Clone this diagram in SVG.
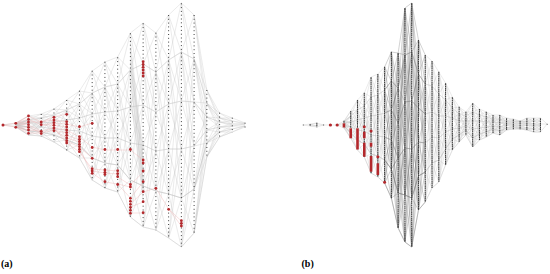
<svg xmlns="http://www.w3.org/2000/svg" width="550" height="274" viewBox="0 0 550 274">
<style>
.e{fill:none;stroke:#c6c6c6;stroke-width:0.35;vector-effect:non-scaling-stroke}
.eb{fill:none;stroke:#bababa;stroke-width:0.3;vector-effect:non-scaling-stroke}
.ec{fill:none;stroke:#7c7c7c;stroke-width:0.35;vector-effect:non-scaling-stroke}
.er{fill:none;stroke:#eeb0b0;stroke-width:0.4;vector-effect:non-scaling-stroke}
.d{stroke:#3c3c3c;stroke-width:1;stroke-dasharray:1 2.8}
.b{stroke:#3f3f3f;stroke-width:1.1;stroke-dasharray:1.7 0.4}
.r{fill:#b3282c}
.rb{stroke:#b3282c;stroke-width:2.6}
.lbl{font-family:"Liberation Serif","DejaVu Serif",serif;font-size:10px;font-weight:bold;fill:#000}
</style>
<rect width="550" height="274" fill="#fff"/>

<g id="connectors">
<g id="edges-a" transform="translate(3 0) scale(12.74 1)">
<path class="e" d="M0 125 1 123M0 125 1 125M0 125 1 127
M1 123 2 116 1 124 2 120 1 125 2 123 1 125 2 127 1 126 2 131 1 127 2 135
M1 123 2 120 1 124 2 123 1 125 2 127 1 125 2 131 1 126 2 135 1 127
M1 123 2 123 1 127 2 127 1 124 2 131 1 126 2 120
M2 116 3 114 2 120 3 118 2 123 3 123 2 127 3 127 2 131 3 132 2 135 3 136
M2 116 3 118 2 120 3 123 2 123 3 127 2 127 3 132 2 131 3 136 2 135
M2 116 3 123 2 135 3 127 2 120 3 132 2 131 3 118
M3 114 4 109 3 118 4 115 3 123 4 122 3 127 4 129 3 132 4 135 3 136 4 142
M3 114 4 115 3 118 4 122 3 123 4 129 3 127 4 135 3 132 4 142 3 136
M3 114 4 122 3 136 4 129 3 118 4 135 3 132 4 115
M4 109 5 100 4 115 5 110 4 122 5 120 4 129 5 130 4 135 5 140 4 142 5 150
M4 109 5 110 4 115 5 120 4 122 5 130 4 129 5 140 4 135 5 150 4 142
M4 109 5 120 4 142 5 130 4 115 5 140 4 135 5 110
M5 100 6 91 5 110 6 104 5 120 6 118 5 130 6 131 5 140 6 145 5 150 6 158
M5 100 6 104 5 110 6 118 5 120 6 131 5 130 6 145 5 140 6 158 5 150
M5 100 6 118 5 150 6 131 5 110 6 145 5 140 6 104
M6 91 7 71 6 104 7 93 6 118 7 114 6 131 7 136 6 145 7 158 6 158 7 180
M6 91 7 93 6 104 7 114 6 118 7 136 6 131 7 158 6 145 7 180 6 158
M6 91 7 114 6 158 7 136 6 104 7 158 6 145 7 93
M7 71 8 62 7 93 8 87 7 114 8 112 7 136 8 138 7 158 8 163 7 180 8 188
M7 71 8 87 7 93 8 112 7 114 8 138 7 136 8 163 7 158 8 188 7 180
M7 71 8 112 7 180 8 138 7 93 8 163 7 158 8 87
M8 62 9 57 8 87 9 84 8 112 9 111 8 138 9 138 8 163 9 165 8 188 9 192
M8 62 9 84 8 87 9 111 8 112 9 138 8 138 9 165 8 163 9 192 8 188
M8 62 9 111 8 188 9 138 8 87 9 165 8 163 9 84
M9 57 10 33 9 84 10 70 9 111 10 107 9 138 10 143 9 165 10 180 9 192 10 217
M9 57 10 70 9 84 10 107 9 111 10 143 9 138 10 180 9 165 10 217 9 192
M9 57 10 107 9 192 10 143 9 84 10 180 9 165 10 70
M10 33 11 23 10 70 11 64 10 107 11 105 10 143 11 145 10 180 11 186 10 217 11 227
M10 33 11 64 10 70 11 105 10 107 11 145 10 143 11 186 10 180 11 227 10 217
M10 33 11 105 10 217 11 145 10 70 11 186 10 180 11 64
M10 40 11 160 10 50 11 170 10 60 11 180 10 80 11 190 10 95 11 200
M11 23 12 33 11 64 12 72 11 105 12 112 11 145 12 151 11 186 12 191 11 227 12 230
M11 23 12 72 11 64 12 112 11 105 12 151 11 145 12 191 11 186 12 230 11 227
M11 23 12 112 11 227 12 151 11 64 12 191 11 186 12 72
M12 33 13 15 12 72 13 60 12 112 13 104 12 151 13 149 12 191 13 194 12 230 13 238
M12 33 13 60 12 72 13 104 12 112 13 149 12 151 13 194 12 191 13 238 12 230
M12 33 13 104 12 230 13 149 12 72 13 194 12 191 13 60
M13 15 14 3 13 60 14 52 13 104 14 101 13 149 14 149 13 194 14 198 13 238 14 247
M13 15 14 52 13 60 14 101 13 104 14 149 13 149 14 198 13 194 14 247 13 238
M13 15 14 101 13 238 14 149 13 60 14 198 13 194 14 52
M14 3 15 15 14 52 15 59 14 101 15 102 14 149 15 146 14 198 15 189 14 247 15 233
M14 3 15 59 14 52 15 102 14 101 15 146 14 149 15 189 14 198 15 233 14 247
M14 3 15 102 14 247 15 146 14 52 15 189 14 198 15 59
M15 15 16 90 15 59 16 103 15 102 16 117 15 146 16 130 15 189 16 143 15 233 16 157
M15 15 16 103 15 59 16 117 15 102 16 130 15 146 16 143 15 189 16 157 15 233
M15 15 16 117 15 233 16 130 15 59 16 143 15 189 16 103
M16 90 17 113 16 103 17 118 16 117 17 122 16 130 17 127 16 143 17 132 16 157 17 137
M16 90 17 118 16 103 17 122 16 117 17 127 16 130 17 132 16 143 17 137 16 157
M16 90 17 122 16 157 17 127 16 103 17 132 16 143 17 118
M17 113 18 118 17 118 18 121 17 122 18 124 17 127 18 126 17 132 18 129 17 137 18 132
M17 113 18 121 17 118 18 124 17 122 18 126 17 127 18 129 17 132 18 132 17 137
M18 118 19 123 18 121 19 124 18 124 19 124 18 126 19 126 18 129 19 126 18 132 19 127"/>
<path class="er" d="M0 125 1 123M0 125 1 127
M1 123 2 116M1 123 2 119M1 123 2 122M1 123 2 125M1 127 2 127M1 127 2 130M1 127 2 133M1 127 2 122
M2 116 3 122M2 119 3 125M2 122 3 122M2 125 3 131M2 127 3 133M2 130 3 131M2 133 3 133
M3 122 4 117M3 122 4 120M3 125 4 123M3 125 4 125M3 131 4 128M3 133 4 130
M4 117 5 114M4 120 5 122M4 123 5 124M4 125 5 127M4 128 5 130M4 130 5 133M4 130 5 138M4 128 5 143
M5 124 6 127M5 130 6 137M5 135 6 140M5 138 6 142M5 141 6 147M5 143 6 152
M6 127 7 123M6 137 7 147M6 147 7 158M6 152 7 169M6 149 7 173
M7 147 8 150M7 169 8 170M7 171 8 173M7 173 8 182
M8 150 9 150M8 170 9 171M8 173 9 174M8 182 9 184
M9 150 10 150M9 177 10 185M9 184 10 187M9 184 10 198
M10 150 11 160M10 185 11 172M10 198 11 182M10 207 11 202M10 213 11 213M10 204 11 192
M11 192 12 188M12 188 13 209M13 209 14 221M13 209 14 226"/>
</g>

<g id="edges-b" transform="translate(303.3 0) scale(6.775 1)">
<path class="eb" d="M0 125 1 124M0 125 1 126
M1 124 2 123 1 125 2 126 1 126 2 127M1 124 2 126
M2 123 3 125 2 127M2 125 3 125M3 125 4 125M4 125 5 125
M5 125 6 121M5 125 6 123M5 125 6 125M5 125 6 128
M6 121 7 111 6 122 7 116 6 123 7 122 6 125 7 127 6 126 7 133 6 128 7 138
M6 121 7 116 6 122 7 122 6 123 7 127 6 125 7 133 6 126 7 138 6 128
M6 121 7 122 6 128 7 127 6 122 7 133 6 126 7 116
M7 111 8 100 7 116 8 110 7 122 8 120 7 127 8 130 7 133 8 140 7 138 8 150
M7 111 8 110 7 116 8 120 7 122 8 130 7 127 8 140 7 133 8 150 7 138
M7 111 8 120 7 138 8 130 7 116 8 140 7 133 8 110
M8 100 9 93 8 110 9 106 8 120 9 118 8 130 9 131 8 140 9 144 8 150 9 157
M8 100 9 106 8 110 9 118 8 120 9 131 8 130 9 144 8 140 9 157 8 150
M8 100 9 118 8 150 9 131 8 110 9 144 8 140 9 106
M9 93 10 77 9 106 10 97 9 118 10 116 9 131 10 135 9 144 10 154 9 157 10 173
M9 93 10 97 9 106 10 116 9 118 10 135 9 131 10 154 9 144 10 173 9 157
M9 93 10 116 9 157 10 135 9 106 10 154 9 144 10 97
M10 77 11 74 10 97 11 95 10 116 11 115 10 135 11 136 10 154 11 156 10 173 11 177
M10 77 11 95 10 97 11 115 10 116 11 136 10 135 11 156 10 154 11 177 10 173
M10 77 11 115 10 173 11 136 10 97 11 156 10 154 11 95
M11 74 12 67 11 95 12 90 11 115 12 113 11 136 12 137 11 156 12 160 11 177 12 183
M11 74 12 90 11 95 12 113 11 115 12 137 11 136 12 160 11 156 12 183 11 177
M11 74 12 113 11 177 12 137 11 95 12 160 11 156 12 90
M18 55 19 61 18 84 19 86 18 114 19 112 18 143 19 137 18 172 19 163 18 202 19 188
M18 55 19 86 18 84 19 112 18 114 19 137 18 143 19 163 18 172 19 188 18 202
M18 55 19 112 18 202 19 137 18 84 19 163 18 172 19 86
M19 61 20 72 19 86 20 94 19 112 20 116 19 137 20 138 19 163 20 160 19 188 20 182
M19 61 20 94 19 86 20 116 19 112 20 138 19 137 20 160 19 163 20 182 19 188
M19 61 20 116 19 188 20 138 19 86 20 160 19 163 20 94
M20 72 21 83 20 94 21 100 20 116 21 116 20 138 21 132 20 160 21 149 20 182 21 165
M20 72 21 100 20 94 21 116 20 116 21 132 20 138 21 149 20 160 21 165 20 182
M20 72 21 116 20 182 21 132 20 94 21 149 20 160 21 100
M21 83 22 97 21 100 22 108 21 116 22 118 21 132 22 129 21 149 22 139 21 165 22 150
M21 83 22 108 21 100 22 118 21 116 22 129 21 132 22 139 21 149 22 150 21 165
M21 83 22 118 21 165 22 129 21 100 22 139 21 149 22 108
M22 97 23 107 22 108 23 114 22 118 23 121 22 129 23 128 22 139 23 135 22 150 23 142
M22 97 23 114 22 108 23 121 22 118 23 128 22 129 23 135 22 139 23 142 22 150
M22 97 23 121 22 150 23 128 22 108 23 135 22 139 23 114
M23 107 24 112 23 114 24 116 23 121 24 121 23 128 24 126 23 135 24 130 23 142 24 135
M23 107 24 116 23 114 24 121 23 121 24 126 23 128 24 130 23 135 24 135 23 142
M23 107 24 121 23 142 24 126 23 114 24 130 23 135 24 116
M24 112 25 103 24 116 25 112 24 121 25 121 24 126 25 129 24 130 25 138 24 135 25 147
M24 112 25 112 24 116 25 121 24 121 25 129 24 126 25 138 24 130 25 147 24 135
M24 112 25 121 24 135 25 129 24 116 25 138 24 130 25 112
M25 103 26 109 25 112 26 115 25 121 26 121 25 129 26 128 25 138 26 134 25 147 26 140
M25 103 26 115 25 112 26 121 25 121 26 128 25 129 26 134 25 138 26 140 25 147
M25 103 26 121 25 147 26 128 25 112 26 134 25 138 26 115
M26 109 27 112 26 115 27 117 26 121 27 122 26 128 27 127 26 134 27 132 26 140 27 137
M26 109 27 117 26 115 27 122 26 121 27 127 26 128 27 132 26 134 27 137 26 140
M26 109 27 122 26 140 27 127 26 115 27 132 26 134 27 117
M27 112 28 115 27 117 28 119 27 122 28 122 27 127 28 126 27 132 28 129 27 137 28 133
M27 112 28 119 27 117 28 122 27 122 28 126 27 127 28 129 27 132 28 133 27 137
M27 112 28 122 27 137 28 126 27 117 28 129 27 132 28 119
M28 115 29 115 28 119 29 119 28 122 29 123 28 126 29 127 28 129 29 131 28 133 29 135
M28 115 29 119 28 119 29 123 28 122 29 127 28 126 29 131 28 129 29 135 28 133
M28 115 29 123 28 133 29 127 28 119 29 131 28 129 29 119
M29 115 30 118 29 119 30 121 29 123 30 123 29 127 30 125 29 131 30 128 29 135 30 130
M29 115 30 121 29 119 30 123 29 123 30 125 29 127 30 128 29 131 30 130 29 135
M29 115 30 123 29 135 30 125 29 119 30 128 29 131 30 121
M30 118 31 119 30 121 31 121 30 123 31 123 30 125 31 125 30 128 31 127 30 130 31 129
M30 118 31 121 30 121 31 123 30 123 31 125 30 125 31 127 30 128 31 129 30 130
M31 119 32 121 31 121 32 122 31 123 32 124 31 125 32 126 31 127 32 128 31 129 32 129
M31 119 32 122 31 121 32 124 31 123 32 126 31 125 32 128 31 127 32 129 31 129
M32 121 33 118 32 122 33 121 32 124 33 123 32 126 33 125 32 128 33 128 32 129 33 130
M32 121 33 121 32 122 33 123 32 124 33 125 32 126 33 128 32 128 33 130 32 129
M33 118 34 118 33 121 34 121 33 123 34 124 33 125 34 126 33 128 34 129 33 130 34 132
M33 118 34 121 33 121 34 124 33 123 34 126 33 125 34 129 33 128 34 132 33 130
M34 118 35 118 34 121 35 121 34 124 35 124 34 126 35 126 34 129 35 129 34 132 35 132
M34 118 35 121 34 121 35 124 34 124 35 126 34 126 35 129 34 129 35 132 34 132
M35 118 36 124M35 124 36 124M35 132 36 124"/>
<path class="ec" d="M12 67 13 52 12 90 13 81 12 113 13 110 12 137 13 140 12 160 13 169 12 183 13 198
M12 67 13 81 12 90 13 110 12 113 13 140 12 137 13 169 12 160 13 198 12 183
M12 67 13 110 12 183 13 140 12 90 13 169 12 160 13 81
M13 52 14 53 13 81 14 88 13 110 14 123 13 140 14 158 13 169 14 193 13 198 14 228
M13 52 14 88 13 81 14 123 13 110 14 158 13 140 14 193 13 169 14 228 13 198
M13 52 14 123 13 198 14 158 13 81 14 193 13 169 14 88
M13 52 14 158 13 169 14 53 13 140 14 228 13 110 14 88
M14 53 15 8 14 88 15 55 14 123 15 102 14 158 15 148 14 193 15 195 14 228 15 242
M14 53 15 55 14 88 15 102 14 123 15 148 14 158 15 195 14 193 15 242 14 228
M14 53 15 102 14 228 15 148 14 88 15 195 14 193 15 55
M14 53 15 148 14 193 15 8 14 158 15 242 14 123 15 55
M15 8 16 3 15 55 16 52 15 102 16 101 15 148 16 149 15 195 16 198 15 242 16 247
M15 8 16 52 15 55 16 101 15 102 16 149 15 148 16 198 15 195 16 247 15 242
M15 8 16 101 15 242 16 149 15 55 16 198 15 195 16 52
M15 8 16 149 15 195 16 3 15 148 16 247 15 102 16 52
M16 3 17 40 16 52 17 74 16 101 17 108 16 149 17 142 16 198 17 176 16 247 17 210
M16 3 17 74 16 52 17 108 16 101 17 142 16 149 17 176 16 198 17 210 16 247
M16 3 17 108 16 247 17 142 16 52 17 176 16 198 17 74
M16 3 17 142 16 198 17 40 16 149 17 210 16 101 17 74
M17 40 18 55 17 74 18 84 17 108 18 114 17 142 18 143 17 176 18 172 17 210 18 202
M17 40 18 84 17 74 18 114 17 108 18 143 17 142 18 172 17 176 18 202 17 210
M17 40 18 114 17 210 18 143 17 74 18 172 17 176 18 84"/>
</g>
</g>

<g id="nodes-a">
<g id="a-L1"><circle class="r" cx="3" cy="125" r="1.5"/></g>
<g id="a-L2"><line class="d" x1="15.74" y1="122.7" x2="15.74" y2="127.5"/><circle class="r" cx="15.74" cy="123.3" r="1.4"/><circle class="r" cx="15.74" cy="127.3" r="1.4"/></g>
<g id="a-L3"><circle class="r" cx="28.48" cy="116" r="1.4"/><circle class="r" cx="28.48" cy="119.3" r="1.4"/><circle class="r" cx="28.48" cy="122" r="1.4"/><circle class="r" cx="28.48" cy="124.7" r="1.4"/><circle class="r" cx="28.48" cy="127.3" r="1.4"/><circle class="r" cx="28.48" cy="130" r="1.4"/><circle class="r" cx="28.48" cy="133.3" r="1.4"/></g>
<g id="a-L4"><line class="d" x1="41.22" y1="114" x2="41.22" y2="137"/><circle class="r" cx="41.22" cy="122" r="1.4"/><circle class="r" cx="41.22" cy="124.7" r="1.4"/><circle class="r" cx="41.22" cy="131.3" r="1.4"/><circle class="r" cx="41.22" cy="133.6" r="1.4"/></g>
<g id="a-L5"><line class="d" x1="53.96" y1="108.7" x2="53.96" y2="142"/><circle class="r" cx="53.96" cy="117.3" r="1.4"/><circle class="r" cx="53.96" cy="120" r="1.4"/><circle class="r" cx="53.96" cy="122.7" r="1.4"/><circle class="r" cx="53.96" cy="125.3" r="1.4"/><circle class="r" cx="53.96" cy="128" r="1.4"/><circle class="r" cx="53.96" cy="130.7" r="1.4"/></g>
<g id="a-L6"><line class="d" x1="66.7" y1="100" x2="66.7" y2="151"/><circle class="r" cx="66.7" cy="114.3" r="1.4"/><circle class="r" cx="66.7" cy="121.7" r="1.4"/><circle class="r" cx="66.7" cy="124.3" r="1.4"/><circle class="r" cx="66.7" cy="127" r="1.4"/><circle class="r" cx="66.7" cy="130" r="1.4"/><circle class="r" cx="66.7" cy="132.7" r="1.4"/><circle class="r" cx="66.7" cy="135.3" r="1.4"/><circle class="r" cx="66.7" cy="138" r="1.4"/><circle class="r" cx="66.7" cy="140.7" r="1.4"/><circle class="r" cx="66.7" cy="143" r="1.4"/></g>
<g id="a-L7"><line class="d" x1="79.44" y1="90.7" x2="79.44" y2="159"/><circle class="r" cx="79.44" cy="126.7" r="1.4"/><circle class="r" cx="79.44" cy="136.7" r="1.4"/><circle class="r" cx="79.44" cy="139.3" r="1.4"/><circle class="r" cx="79.44" cy="141.7" r="1.4"/><circle class="r" cx="79.44" cy="144.3" r="1.4"/><circle class="r" cx="79.44" cy="146.7" r="1.4"/><circle class="r" cx="79.44" cy="149.3" r="1.4"/><circle class="r" cx="79.44" cy="151.7" r="1.4"/></g>
<g id="a-L8"><line class="d" x1="92.18" y1="70.7" x2="92.18" y2="181"/><circle class="r" cx="92.18" cy="123.3" r="1.4"/><circle class="r" cx="92.18" cy="147.5" r="1.4"/><circle class="r" cx="92.18" cy="158.3" r="1.4"/><circle class="r" cx="92.18" cy="168.7" r="1.4"/><circle class="r" cx="92.18" cy="171" r="1.4"/><circle class="r" cx="92.18" cy="173.3" r="1.4"/></g>
<g id="a-L9"><line class="d" x1="104.92" y1="61.7" x2="104.92" y2="189"/><circle class="r" cx="104.92" cy="149.5" r="1.4"/><circle class="r" cx="104.92" cy="170" r="1.4"/><circle class="r" cx="104.92" cy="172.3" r="1.4"/><circle class="r" cx="104.92" cy="174.5" r="1.4"/><circle class="r" cx="104.92" cy="181.7" r="1.4"/></g>
<g id="a-L10"><line class="d" x1="117.66" y1="57.3" x2="117.66" y2="192"/><circle class="r" cx="117.66" cy="149.5" r="1.4"/><circle class="r" cx="117.66" cy="170.7" r="1.4"/><circle class="r" cx="117.66" cy="173.7" r="1.4"/><circle class="r" cx="117.66" cy="176.7" r="1.4"/><circle class="r" cx="117.66" cy="184.5" r="1.4"/></g>
<g id="a-L11"><line class="d" x1="130.4" y1="33.3" x2="130.4" y2="217"/><circle class="r" cx="130.4" cy="149.5" r="1.4"/><circle class="r" cx="130.4" cy="184.5" r="1.4"/><circle class="r" cx="130.4" cy="187" r="1.4"/><circle class="r" cx="130.4" cy="198.3" r="1.4"/><circle class="r" cx="130.4" cy="201.3" r="1.4"/><circle class="r" cx="130.4" cy="204.3" r="1.4"/><circle class="r" cx="130.4" cy="207.3" r="1.4"/><circle class="r" cx="130.4" cy="210.3" r="1.4"/><circle class="r" cx="130.4" cy="213.3" r="1.4"/></g>
<g id="a-L12"><line class="d" x1="143.14" y1="23.3" x2="143.14" y2="227"/><circle class="r" cx="143.14" cy="61.7" r="1.4"/><circle class="r" cx="143.14" cy="64.5" r="1.4"/><circle class="r" cx="143.14" cy="67.3" r="1.4"/><circle class="r" cx="143.14" cy="70.1" r="1.4"/><circle class="r" cx="143.14" cy="73" r="1.4"/><circle class="r" cx="143.14" cy="76" r="1.4"/><circle class="r" cx="143.14" cy="160" r="1.4"/><circle class="r" cx="143.14" cy="163" r="1.4"/><circle class="r" cx="143.14" cy="171" r="1.4"/><circle class="r" cx="143.14" cy="181.7" r="1.4"/><circle class="r" cx="143.14" cy="191.7" r="1.4"/><circle class="r" cx="143.14" cy="201.7" r="1.4"/><circle class="r" cx="143.14" cy="212.7" r="1.4"/></g>
<g id="a-L13"><line class="d" x1="155.88" y1="32.7" x2="155.88" y2="230.5"/><circle class="r" cx="155.88" cy="188.3" r="1.4"/></g>
<g id="a-L14"><line class="d" x1="168.62" y1="15" x2="168.62" y2="239"/><circle class="r" cx="168.62" cy="209.3" r="1.4"/></g>
<g id="a-L15"><line class="d" x1="181.36" y1="3.3" x2="181.36" y2="247"/><circle class="r" cx="181.36" cy="220.7" r="1.4"/><circle class="r" cx="181.36" cy="223.3" r="1.4"/><circle class="r" cx="181.36" cy="226" r="1.4"/></g>
<g id="a-L16"><line class="d" x1="194.1" y1="15" x2="194.1" y2="233.5"/></g>
<g id="a-L17"><line class="d" x1="206.84" y1="90" x2="206.84" y2="157"/></g>
<g id="a-L18"><line class="d" x1="219.58" y1="112.7" x2="219.58" y2="137"/></g>
<g id="a-L19"><line class="d" x1="232.32" y1="117.7" x2="232.32" y2="133"/></g>
<g id="a-L20"><line class="d" x1="245.06" y1="122.7" x2="245.06" y2="127.5"/></g>
</g>

<g id="nodes-b">
<g id="b-L1"><rect x="302.8" y="124.5" width="1" height="1" fill="#555"/></g>
<g id="b-L2"><line class="b" x1="310.08" y1="124" x2="310.08" y2="126"/></g>
<g id="b-L3"><line class="b" x1="316.85" y1="122.7" x2="316.85" y2="127.3"/></g>
<g id="b-L4"><rect x="323.1" y="124.5" width="1" height="1" fill="#555"/></g>
<g id="b-L5"><circle class="r" cx="330.4" cy="125" r="1.6"/></g>
<g id="b-L6"><circle class="r" cx="337.18" cy="125" r="1.6"/></g>
<g id="b-L7"><line class="b" x1="343.95" y1="120.7" x2="343.95" y2="123"/><line class="rb" x1="343.95" y1="123.3" x2="343.95" y2="127.5"/></g>
<g id="b-L8"><line class="b" x1="350.73" y1="111" x2="350.73" y2="128"/><line class="rb" x1="350.73" y1="128.3" x2="350.73" y2="138.3"/></g>
<g id="b-L9"><line class="b" x1="357.5" y1="100" x2="357.5" y2="128"/><line class="rb" x1="357.5" y1="128.3" x2="357.5" y2="149.5"/></g>
<g id="b-L10"><line class="b" x1="364.28" y1="92.7" x2="364.28" y2="156.7"/><circle class="r" cx="364.28" cy="126.7" r="1.5"/><line class="rb" x1="364.28" y1="131.7" x2="364.28" y2="138.3"/><line class="rb" x1="364.28" y1="142.7" x2="364.28" y2="156.7"/></g>
<g id="b-L11"><line class="b" x1="371.05" y1="77.3" x2="371.05" y2="173.3"/><circle class="r" cx="371.05" cy="131" r="1.5"/><line class="rb" x1="371.05" y1="142.7" x2="371.05" y2="146.7"/><line class="rb" x1="371.05" y1="156" x2="371.05" y2="171.7"/></g>
<g id="b-L12"><line class="b" x1="377.83" y1="74" x2="377.83" y2="176.7"/><circle class="r" cx="377.83" cy="156.7" r="1.5"/><line class="rb" x1="377.83" y1="163.3" x2="377.83" y2="175"/></g>
<g id="b-L13"><line class="b" x1="384.6" y1="66.7" x2="384.6" y2="183"/><circle class="r" cx="384.6" cy="182.3" r="1.5"/></g>
<g id="b-L14"><line class="b" x1="391.38" y1="51.7" x2="391.38" y2="198.3"/></g>
<g id="b-L15"><line class="b" x1="398.15" y1="53.3" x2="398.15" y2="228"/></g>
<g id="b-L16"><line class="b" x1="404.93" y1="8.3" x2="404.93" y2="241.7"/></g>
<g id="b-L17"><line class="b" x1="411.7" y1="3.3" x2="411.7" y2="246.7"/></g>
<g id="b-L18"><line class="b" x1="418.48" y1="40" x2="418.48" y2="210"/></g>
<g id="b-L19"><line class="b" x1="425.25" y1="55" x2="425.25" y2="201.7"/></g>
<g id="b-L20"><line class="b" x1="432.03" y1="61" x2="432.03" y2="188"/></g>
<g id="b-L21"><line class="b" x1="438.8" y1="71.7" x2="438.8" y2="181.7"/></g>
<g id="b-L22"><line class="b" x1="445.58" y1="83.3" x2="445.58" y2="165"/></g>
<g id="b-L23"><line class="b" x1="452.35" y1="97.3" x2="452.35" y2="150"/></g>
<g id="b-L24"><line class="b" x1="459.13" y1="106.7" x2="459.13" y2="141.7"/></g>
<g id="b-L25"><line class="b" x1="465.9" y1="111.7" x2="465.9" y2="135"/></g>
<g id="b-L26"><line class="b" x1="472.68" y1="103.3" x2="472.68" y2="146.7"/></g>
<g id="b-L27"><line class="b" x1="479.45" y1="109" x2="479.45" y2="140"/></g>
<g id="b-L28"><line class="b" x1="486.23" y1="111.7" x2="486.23" y2="136.7"/></g>
<g id="b-L29"><line class="b" x1="493" y1="115" x2="493" y2="133"/></g>
<g id="b-L30"><line class="b" x1="499.78" y1="115" x2="499.78" y2="135"/></g>
<g id="b-L31"><line class="b" x1="506.55" y1="118.3" x2="506.55" y2="130"/></g>
<g id="b-L32"><line class="b" x1="513.33" y1="119.3" x2="513.33" y2="129.3"/></g>
<g id="b-L33"><line class="b" x1="520.1" y1="120.7" x2="520.1" y2="129.3"/></g>
<g id="b-L34"><line class="b" x1="526.88" y1="118.3" x2="526.88" y2="130"/></g>
<g id="b-L35"><line class="b" x1="533.65" y1="118.3" x2="533.65" y2="131.7"/></g>
<g id="b-L36"><line class="b" x1="540.43" y1="118.3" x2="540.43" y2="131.7"/></g>
<g id="b-L37"><rect x="546.7" y="123.8" width="1" height="1" fill="#555"/></g>
</g>

<text class="lbl" x="1" y="267">(a)</text>
<text class="lbl" x="301.5" y="267">(b)</text>
</svg>
